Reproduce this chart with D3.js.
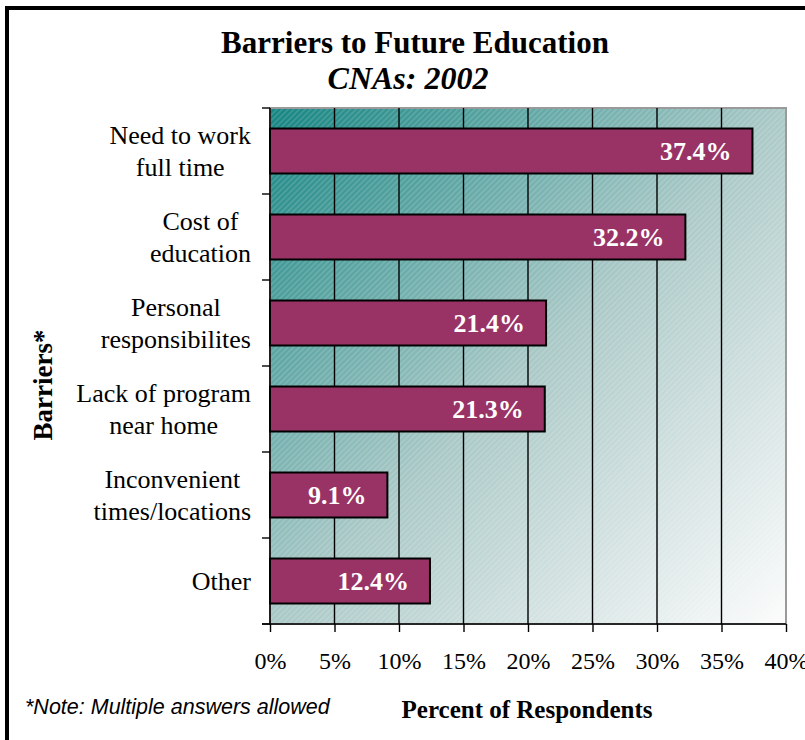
<!DOCTYPE html>
<html>
<head>
<meta charset="utf-8">
<script src="https://cdn.jsdelivr.net/npm/d3@7"></script>
<style>
  html, body { margin: 0; padding: 0; background: #ffffff; }
  svg { display: block; }
</style>
</head>
<body>
<svg id="chart" width="805" height="740"></svg>
<script>
// Survey results: barriers to future education for CNAs, 2002
const categories = [
  ["Need to work", "full time"],
  ["Cost of", "education"],
  ["Personal", "responsibilites"],
  ["Lack of program", "near home"],
  ["Inconvenient", "times/locations"],
  ["Other"]
];
const values = [37.4, 32.2, 21.4, 21.3, 9.1, 12.4];
const tickValues = [0, 5, 10, 15, 20, 25, 30, 35, 40];

const svg = d3.select("#chart");
const serif = "'Liberation Serif', 'Times New Roman', serif";
const sans = "'Liberation Sans', Arial, sans-serif";

// frame around the whole chart
svg.append("rect")
  .attr("x", 7).attr("y", 8).attr("width", 820).attr("height", 760)
  .attr("fill", "none").attr("stroke", "#000").attr("stroke-width", 4);

const plot = { left: 270, right: 786, top: 108, bottom: 624 };
const keys = categories.map((c, i) => i);

const x = d3.scaleLinear().domain([0, 40]).range([plot.left, plot.right]);
const y = d3.scaleBand().domain(keys)
  .range([plot.top, plot.bottom])
  .paddingInner(0.477).paddingOuter(0.2385);

// plot background: teal-to-white diagonal gradient with fine hatching
const defs = svg.append("defs");
const grad = defs.append("linearGradient").attr("id", "bg")
  .attr("x1", 0).attr("y1", 0).attr("x2", 1).attr("y2", 1);
grad.append("stop").attr("offset", 0).attr("stop-color", "#138481");
grad.append("stop").attr("offset", 0.5).attr("stop-color", "#a9c8c6");
grad.append("stop").attr("offset", 1).attr("stop-color", "#fcfcfc");

const hatch = defs.append("pattern").attr("id", "hatch")
  .attr("patternUnits", "userSpaceOnUse")
  .attr("width", 4).attr("height", 4)
  .attr("patternTransform", "rotate(45)");
hatch.append("line")
  .attr("x1", 1).attr("y1", 0).attr("x2", 1).attr("y2", 4)
  .attr("stroke", "#ffffff").attr("stroke-opacity", 0.22).attr("stroke-width", 1.2);

svg.append("rect")
  .attr("x", plot.left).attr("y", plot.top)
  .attr("width", plot.right - plot.left).attr("height", plot.bottom - plot.top)
  .attr("fill", "url(#bg)");
svg.append("rect")
  .attr("x", plot.left).attr("y", plot.top)
  .attr("width", plot.right - plot.left).attr("height", plot.bottom - plot.top)
  .attr("fill", "url(#hatch)")
  .attr("stroke", "#9a9a9a").attr("stroke-width", 2);

// vertical gridlines
svg.append("g").selectAll("line")
  .data(tickValues.slice(1, -1))
  .join("line")
  .attr("x1", d => x(d)).attr("x2", d => x(d))
  .attr("y1", plot.top).attr("y2", plot.bottom)
  .attr("stroke", "#000").attr("stroke-width", 1.4);

// x axis
const xAxis = svg.append("g")
  .attr("transform", `translate(0,${plot.bottom})`)
  .call(d3.axisBottom(x).tickValues(tickValues).tickSize(8).tickFormat(d => d + "%").tickPadding(20));
xAxis.select(".domain").remove();
xAxis.selectAll(".tick line").attr("stroke", "#000").attr("stroke-width", 1.4);
xAxis.selectAll(".tick text")
  .attr("font-family", serif).attr("font-size", 24).attr("fill", "#000");
svg.append("line")
  .attr("x1", plot.left - 8).attr("x2", plot.right)
  .attr("y1", plot.bottom).attr("y2", plot.bottom)
  .attr("stroke", "#000").attr("stroke-width", 1.6);

// y axis line and ticks between categories
svg.append("line")
  .attr("x1", plot.left).attr("x2", plot.left)
  .attr("y1", plot.top).attr("y2", plot.bottom)
  .attr("stroke", "#000").attr("stroke-width", 1.6);
const step = y.step();
svg.append("g").selectAll("line")
  .data(d3.range(keys.length + 1))
  .join("line")
  .attr("x1", plot.left - 8).attr("x2", plot.left)
  .attr("y1", i => plot.top + i * step).attr("y2", i => plot.top + i * step)
  .attr("stroke", "#000").attr("stroke-width", 1.4);

// category labels: each block is right-aligned to the axis, lines centred within it
const labelRight = 251;
const catLabels = svg.append("g").selectAll("text")
  .data(categories)
  .join("text")
  .attr("font-family", serif).attr("font-size", 26).attr("fill", "#000")
  .attr("text-anchor", "middle");
catLabels.each(function (lines, i) {
  const cy = y(i) + y.bandwidth() / 2;
  const lh = 32;
  const start = cy - (lines.length - 1) * lh / 2 + 9;
  const spans = d3.select(this).selectAll("tspan")
    .data(lines)
    .join("tspan")
    .attr("y", (d, j) => start + j * lh)
    .text(d => d);
  let w = 0;
  spans.each(function () { w = Math.max(w, this.getComputedTextLength()); });
  spans.attr("x", labelRight - w / 2);
});

// bars
svg.append("g").selectAll("rect")
  .data(values)
  .join("rect")
  .attr("x", x(0))
  .attr("y", (d, i) => y(i))
  .attr("width", d => x(d) - x(0))
  .attr("height", y.bandwidth())
  .attr("fill", "#993366")
  .attr("stroke", "#000").attr("stroke-width", 2);

// value labels
svg.append("g").selectAll("text")
  .data(values)
  .join("text")
  .attr("x", d => x(d) - 21)
  .attr("y", (d, i) => y(i) + y.bandwidth() / 2 + 9)
  .attr("text-anchor", "end")
  .attr("font-family", serif).attr("font-size", 26).attr("font-weight", "bold")
  .attr("fill", "#ffffff")
  .text(d => d.toFixed(1) + "%");

// titles
svg.append("text")
  .attr("x", 415).attr("y", 53)
  .attr("text-anchor", "middle")
  .attr("font-family", serif).attr("font-size", 31).attr("font-weight", "bold")
  .text("Barriers to Future Education");
svg.append("text")
  .attr("x", 408).attr("y", 89)
  .attr("text-anchor", "middle")
  .attr("font-family", serif).attr("font-size", 32).attr("font-weight", "bold")
  .attr("font-style", "italic")
  .text("CNAs: 2002");

// axis titles
svg.append("text")
  .attr("transform", "translate(52,385) rotate(-90)")
  .attr("text-anchor", "middle")
  .attr("font-family", serif).attr("font-size", 27).attr("font-weight", "bold")
  .text("Barriers*");
svg.append("text")
  .attr("x", 527).attr("y", 718)
  .attr("text-anchor", "middle")
  .attr("font-family", serif).attr("font-size", 25).attr("font-weight", "bold")
  .text("Percent of Respondents");

// footnote
svg.append("text")
  .attr("x", 25).attr("y", 714)
  .attr("font-family", sans).attr("font-size", 21.5).attr("font-style", "italic")
  .text("*Note: Multiple answers allowed");
</script>
</body>
</html>
